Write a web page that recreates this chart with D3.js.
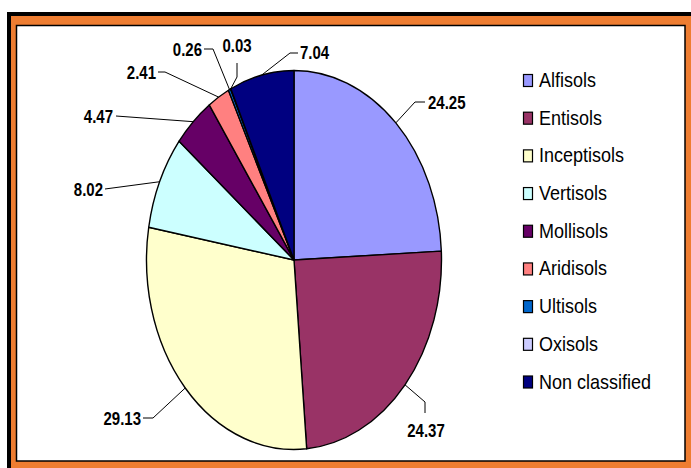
<!DOCTYPE html>
<html>
<head>
<meta charset="utf-8">
<script src="https://cdn.jsdelivr.net/npm/d3@7"></script>
<style>
  html, body { margin: 0; padding: 0; background: #fff; }
  svg { display: block; }
</style>
</head>
<body>
<svg id="chart" width="691" height="468"></svg>
<script>
// Soil orders share (%)
const categories = ["Alfisols", "Entisols", "Inceptisols", "Vertisols", "Mollisols",
                    "Aridisols", "Ultisols", "Oxisols", "Non classified"];
const values = [24.25, 24.37, 29.13, 8.02, 4.47, 2.41, 0.26, 0.03, 7.04];
const valueLabels = ["24.25", "24.37", "29.13", "8.02", "4.47", "2.41", "0.26", "0.03", "7.04"];
const colors = ["#9999FF", "#993366", "#FFFFCC", "#CCFFFF", "#660066",
                "#FF8080", "#0066CC", "#CCCCFF", "#000080"];

// Label layout relative to the pie centre: leader bend points, text anchor point and alignment
const labelLayout = [
  { pts: [[121, -158], [131, -158]], text: [134, -151.5], anchor: "start" },
  { pts: [[131, 142], [131, 153]], text: [132, 176.5], anchor: "middle" },
  { pts: [[-141, 158], [-151, 158]], text: [-153, 164.5], anchor: "end" },
  { pts: [[-189, -71]], text: [-191, -64.5], anchor: "end" },
  { pts: [[-178, -144]], text: [-181, -137.5], anchor: "end" },
  { pts: [[-129, -188], [-136, -188]], text: [-138, -181.5], anchor: "end" },
  { pts: [[-81, -211], [-90, -211]], text: [-92, -204.5], anchor: "end" },
  { pts: [[-57, -183], [-57, -197]], text: [-57, -208.5], anchor: "middle" },
  { pts: [[-4, -207], [4, -207]], text: [6, -201.5], anchor: "start" }
];

const svg = d3.select("#chart");
const W = 691, H = 468;

// Frame: black outer edge, orange band, white plot area with thin black border
svg.append("rect").attr("x", 7).attr("y", 12).attr("width", W).attr("height", H)
  .attr("fill", "#000");
svg.append("rect").attr("x", 11).attr("y", 16).attr("width", W).attr("height", H)
  .attr("fill", "#EE7D31");
svg.append("rect").attr("x", 16.5).attr("y", 25.5).attr("width", 668.5).attr("height", 435.5)
  .attr("fill", "#fff").attr("stroke", "#000").attr("stroke-width", 1.5);

// Pie (elliptical)
const cx = 294, cy = 260, rx = 147.5, ry = 189.5;
const pie = d3.pie().sort(null).value(d => d)(values);
const arc = d3.arc().innerRadius(0).outerRadius(rx);

const pieG = svg.append("g")
  .attr("transform", `translate(${cx},${cy}) scale(1,${ry / rx})`);
pieG.selectAll("path").data(pie).join("path")
  .attr("d", arc)
  .attr("fill", (d, i) => colors[i])
  .attr("stroke", "#000")
  .attr("stroke-width", 1.4)
  .attr("stroke-linejoin", "round")
  .attr("vector-effect", "non-scaling-stroke");

// Value labels with leader lines
const labG = svg.append("g").attr("transform", `translate(${cx},${cy})`);
pie.forEach((d, i) => {
  const a = (d.startAngle + d.endAngle) / 2;
  const edge = [rx * Math.sin(a), -ry * Math.cos(a)];
  const L = labelLayout[i];
  const pts = [edge].concat(L.pts);
  labG.append("path")
    .attr("d", d3.line()(pts))
    .attr("fill", "none")
    .attr("stroke", "#000")
    .attr("stroke-width", 1);
  labG.append("g")
    .attr("transform", `translate(${L.text[0]},${L.text[1]}) scale(1,1.22)`)
    .append("text")
    .attr("text-anchor", L.anchor)
    .attr("font-family", "'Liberation Sans', Arial, sans-serif")
    .attr("font-weight", "bold")
    .attr("font-size", 15)
    .attr("fill", "#000")
    .text(valueLabels[i]);
});

// Legend
const legendY = d3.scalePoint().domain(categories).range([80.5, 382]);
const legG = svg.append("g");
categories.forEach((c, i) => {
  const y = legendY(c);
  legG.append("rect")
    .attr("x", 523.5).attr("y", y - 6)
    .attr("width", 9).attr("height", 12)
    .attr("fill", colors[i]).attr("stroke", "#000").attr("stroke-width", 1.2);
  legG.append("g")
    .attr("transform", `translate(539,${y + 6.5}) scale(1,1.08)`)
    .append("text")
    .attr("font-family", "'Liberation Sans', Arial, sans-serif")
    .attr("font-size", 18)
    .attr("fill", "#000")
    .text(c);
});
</script>
</body>
</html>
